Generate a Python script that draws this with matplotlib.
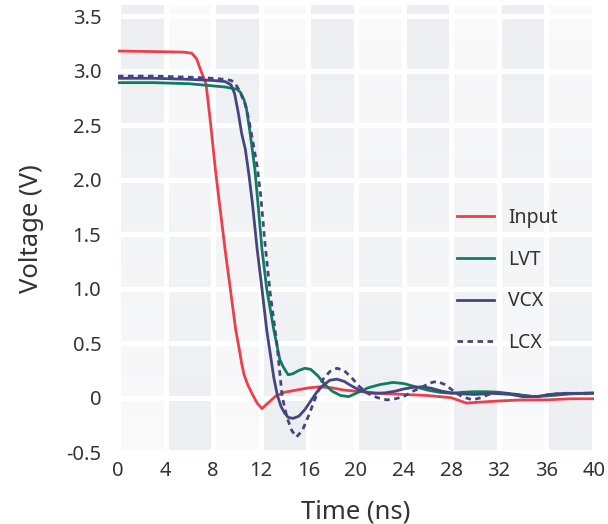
import matplotlib
matplotlib.use("Agg")
import matplotlib.pyplot as plt
import numpy as np
from matplotlib.colors import LinearSegmentedColormap

plt.rcParams['font.family'] = ['Noto Sans', 'DejaVu Sans']

# Input (red)
t_input = [0, 3, 5.5, 6.2, 6.6, 7.0, 7.4, 7.8, 8.2, 8.6, 9.0, 9.5, 9.9, 10.2, 10.4, 10.6,
           10.9, 11.3, 11.7, 12.1, 12.6, 13.2, 14.0, 15.0, 16.0, 17.0, 18.0, 19.0, 20.0,
           22.0, 24.0, 26.0, 28.0, 29.3, 30.5, 32.0, 34.0, 36.0, 38.0, 40.0]
v_input = [3.18, 3.175, 3.17, 3.16, 3.11, 2.99, 2.88, 2.50, 2.08, 1.72, 1.36, 0.95, 0.62,
           0.44, 0.31, 0.21, 0.12, 0.03, -0.05, -0.10, -0.05, 0.01, 0.05, 0.07, 0.09, 0.10,
           0.09, 0.07, 0.06, 0.04, 0.03, 0.02, 0.0, -0.05, -0.04, -0.03, -0.02, -0.02, -0.01,
           -0.01]

# LVT (green)
t_lvt = [0, 3, 6, 8, 9.0, 10.0, 10.3, 10.6, 10.8, 11.1, 11.5, 11.8, 12.1, 12.5, 13.1, 13.6,
         13.9, 14.3, 14.7, 15.2, 15.7, 16.2, 16.8, 17.4, 18.0, 18.7, 19.4, 20.1, 21.0, 22.0,
         23.1, 24.0, 25.0, 26.0, 27.0, 28.0, 29.0, 30.0, 31.0, 32.0, 33.5, 35.0, 36.5, 38.0, 40.0]
v_lvt = [2.89, 2.89, 2.88, 2.86, 2.85, 2.83, 2.80, 2.73, 2.65, 2.43, 2.10, 1.74, 1.36, 1.00,
         0.62, 0.35, 0.28, 0.21, 0.22, 0.25, 0.27, 0.26, 0.20, 0.12, 0.06, 0.02, 0.01, 0.045,
         0.09, 0.12, 0.14, 0.13, 0.10, 0.07, 0.05, 0.04, 0.05, 0.055, 0.055, 0.05, 0.03, 0.01,
         0.02, 0.035, 0.045]

# VCX (navy, solid)
t_vcx = [0, 3, 6, 8, 9.0, 9.5, 9.8, 10.1, 10.4, 10.7, 11.0, 11.3, 11.7, 12.1, 12.5, 12.8,
         13.1, 13.4, 13.7, 14.0, 14.3, 14.7, 15.2, 15.7, 16.2, 16.7, 17.2, 17.8, 18.4, 19.0,
         19.6, 20.3, 21.0, 21.7, 22.5, 23.3, 24.0, 24.8, 25.6, 26.4, 27.2, 28.0, 29.0, 30.0,
         31.5, 33.0, 34.0, 35.2, 36.3, 37.5, 40.0]
v_vcx = [2.93, 2.93, 2.92, 2.91, 2.90, 2.87, 2.79, 2.62, 2.42, 2.28, 2.05, 1.78, 1.36, 1.00,
         0.62, 0.40, 0.18, 0.02, -0.08, -0.14, -0.18, -0.19, -0.17, -0.11, -0.03, 0.05, 0.11,
         0.16, 0.17, 0.15, 0.11, 0.07, 0.045, 0.04, 0.045, 0.06, 0.08, 0.095, 0.10, 0.085, 0.06,
         0.045, 0.035, 0.03, 0.04, 0.03, 0.01, 0.01, 0.03, 0.04, 0.04]

# LCX (navy, dashed)
t_lcx = [0, 3, 6, 8, 9.0, 9.5, 9.8, 10.2, 10.7, 11.0, 11.3, 11.7, 12.0, 12.35, 12.8, 13.35,
         13.8, 14.2, 14.6, 15.0, 15.5, 16.0, 16.6, 17.2, 17.8, 18.4, 19.0, 19.75, 20.3, 21.0,
         21.8, 22.6, 23.3, 24.0, 24.8, 25.6, 26.2, 26.8, 27.5, 28.2, 28.9, 29.8, 30.5, 31.5,
         32.5, 33.5, 34.3, 35.2, 36.3, 37.5, 40.0]
v_lcx = [2.95, 2.95, 2.94, 2.93, 2.92, 2.91, 2.89, 2.82, 2.69, 2.55, 2.37, 2.12, 1.85, 1.42,
         0.95, 0.50, 0.01, -0.18, -0.30, -0.36, -0.30, -0.17, 0.0, 0.165, 0.24, 0.27, 0.25,
         0.17, 0.10, 0.04, 0.0, -0.02, -0.01, 0.01, 0.06, 0.10, 0.135, 0.15, 0.12, 0.06, 0.01,
         -0.02, 0.0, 0.045, 0.04, 0.03, 0.015, 0.01, 0.03, 0.04, 0.04]

xticks = [0, 4, 8, 12, 16, 20, 24, 28, 32, 36, 40]
yticks = [-0.5, 0, 0.5, 1.0, 1.5, 2.0, 2.5, 3.0, 3.5]
ytick_labels = ["-0.5", "0", "0.5", "1.0", "1.5", "2.0", "2.5", "3.0", "3.5"]

fig = plt.figure(figsize=(6.08, 5.24), dpi=100)
ax = fig.add_axes([0.194, 0.137, 0.783, 0.853])
ymin, ymax = -0.5, 3.6

# shaded column bands with vertical gradient
cmap = LinearSegmentedColormap.from_list("band", ["#fafafb", "#eceef1"])
grad = np.linspace(0, 1, 100).reshape(-1, 1)
for i in range(len(xticks) - 1):
    g = grad[::-1] if i % 2 == 0 else grad
    ax.imshow(g, cmap=cmap, vmin=0, vmax=1, aspect="auto", origin="upper",
              extent=[xticks[i], xticks[i + 1], ymin, ymax], zorder=0)

for x in xticks:
    ax.axvline(x, color="white", lw=3.6, zorder=1)
for y in yticks:
    ax.axhline(y, color="white", lw=3.6, zorder=1)

lw = 2.0
ax.plot(t_input, v_input, color="#ee3e4a", lw=lw, label="Input", zorder=3)
ax.plot(t_lvt, v_lvt, color="#0d7d60", lw=lw, label="LVT", zorder=3)
ax.plot(t_vcx, v_vcx, color="#45467f", lw=lw, label="VCX", zorder=4)
ax.plot(t_lcx, v_lcx, color="#45467f", lw=lw, ls=(0, (2.0, 1.6)), label="LCX", zorder=4)

ax.set_xlim(0, 40)
ax.set_ylim(ymin, ymax)
ax.set_xticks(xticks)
ax.set_yticks(yticks)
ax.set_yticklabels(ytick_labels)
ax.tick_params(length=0, labelsize=14.5, labelcolor="#333333")
ax.tick_params(axis="y", pad=12)
ax.tick_params(axis="x", pad=6)
for s in ax.spines.values():
    s.set_visible(False)

ax.set_xlabel("Time (ns)", fontsize=18.5, color="#333333", labelpad=14)
ax.set_ylabel("Voltage (V)", fontsize=18.5, color="#333333", labelpad=16)

leg = ax.legend(loc="center left", bbox_to_anchor=(0.713, 0.384), frameon=False,
                fontsize=14, labelspacing=1.12, handlelength=1.9, handletextpad=0.7,
                borderaxespad=0, borderpad=0)
for txt in leg.get_texts():
    txt.set_color("#333333")

fig.savefig("out.png", dpi=100)
